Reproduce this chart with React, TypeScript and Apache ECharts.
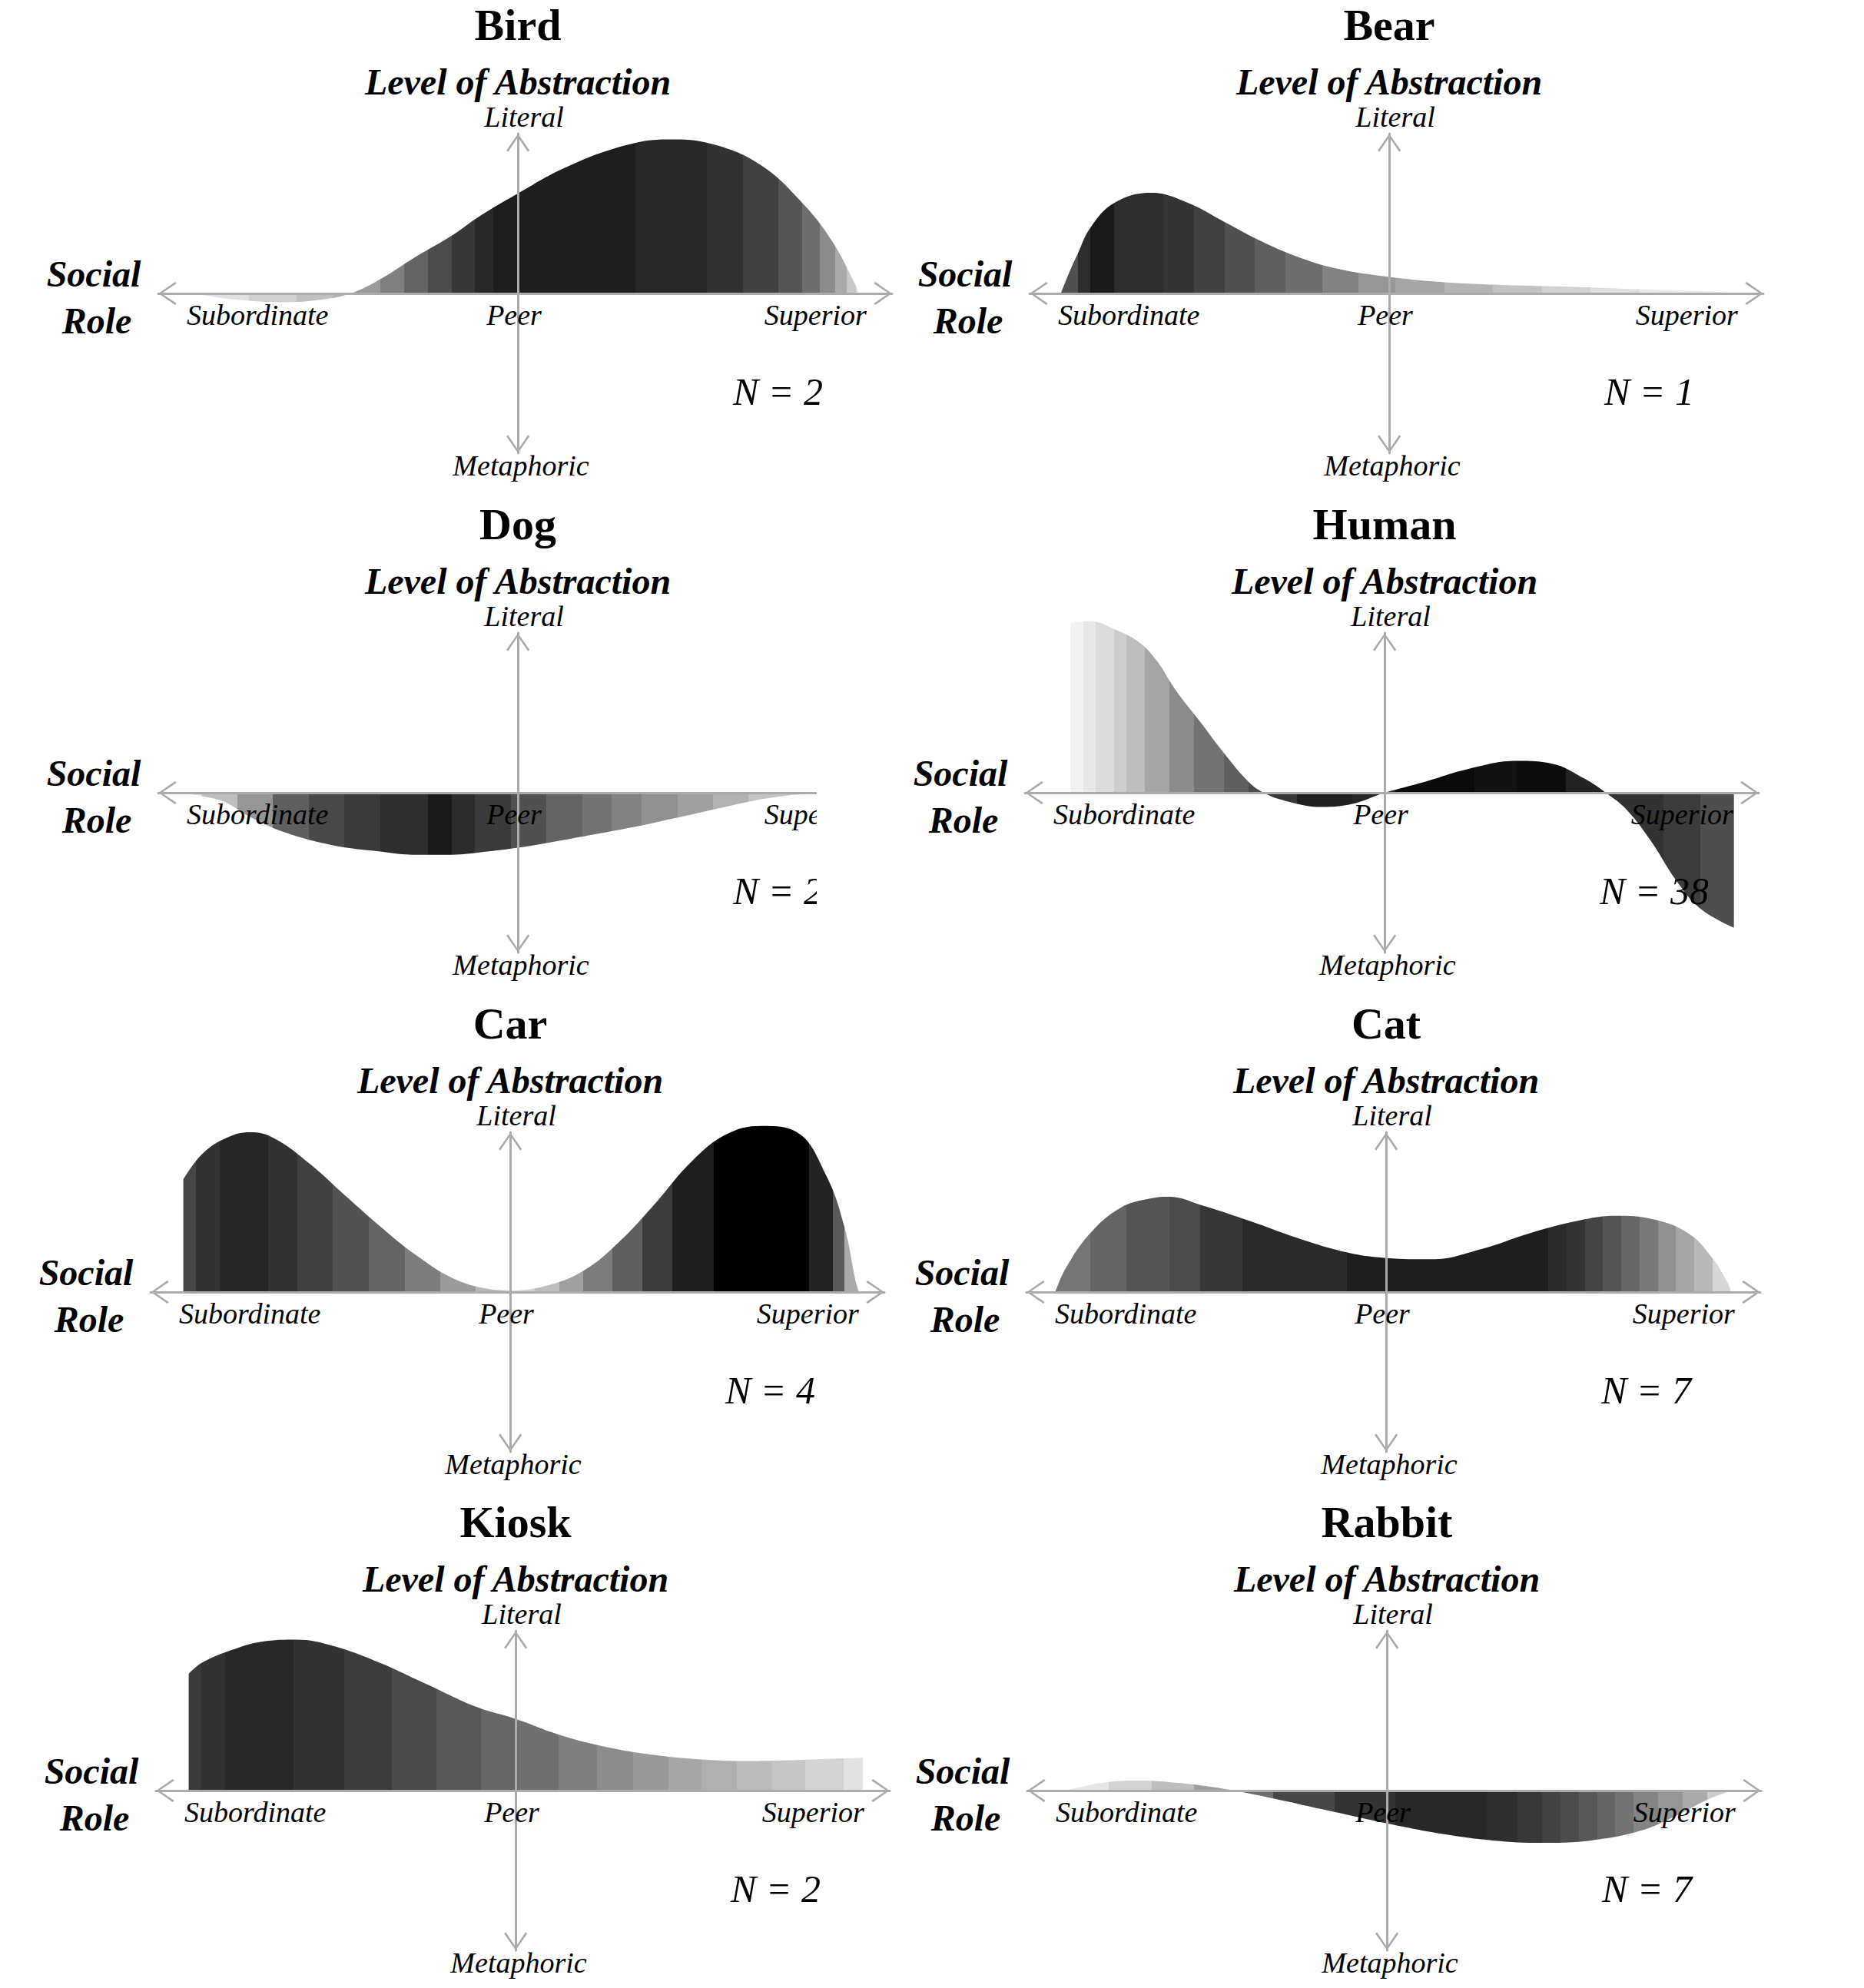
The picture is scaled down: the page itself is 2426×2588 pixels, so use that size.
import React, { useEffect, useRef } from "react";
import * as echarts from "echarts";

// ---------- data ----------
const panelNames = ["Bird", "Bear", "Dog", "Human", "Car", "Cat", "Kiosk", "Rabbit"];
const panelCounts = ["N = 2", "N = 1", "N = 2", "N = 38", "N = 4", "N = 7", "N = 2", "N = 7"];
const xTickLabels = ["Subordinate", "Peer", "Superior"];
const xTickValues = [-0.724, -0.011, 0.827];

const birdX = [-0.896, -0.8, -0.65, -0.55, -0.466, -0.38, -0.284, -0.185, -0.102, 0, 0.129, 0.294, 0.418, 0.542, 0.674, 0.79, 0.873, 0.939, 0.947];
const birdY = [0, -0.035, -0.055, -0.04, 0, 0.093, 0.229, 0.36, 0.49, 0.626, 0.785, 0.924, 0.964, 0.934, 0.805, 0.567, 0.328, 0.05, 0];
const birdShadeX = [-0.896, -0.747, -0.615, -0.516, -0.45, -0.383, -0.317, -0.251, -0.185, -0.119, -0.069, 0.327, 0.526, 0.625, 0.724, 0.79, 0.84, 0.881, 0.914, 0.939];
const birdShade = [225, 208, 192, 175, 155, 128, 100, 75, 55, 40, 30, 40, 50, 65, 85, 110, 140, 170, 200, 225];

const bearX = [-0.913, -0.89, -0.866, -0.832, -0.764, -0.662, -0.56, -0.458, -0.357, -0.255, -0.153, 0, 0.153, 0.357, 0.526, 0.696, 0.866, 0.99];
const bearY = [0, 0.13, 0.249, 0.408, 0.567, 0.63, 0.567, 0.447, 0.328, 0.229, 0.159, 0.103, 0.07, 0.05, 0.04, 0.026, 0.014, 0];
const bearShadeX = [-0.913, -0.866, -0.832, -0.764, -0.628, -0.543, -0.458, -0.374, -0.289, -0.187, -0.085, 0.017, 0.153, 0.289, 0.424, 0.56, 0.696];
const bearShade = [80, 45, 26, 45, 52, 65, 80, 95, 110, 130, 150, 165, 180, 195, 210, 222, 235];

const dogX = [-0.945, -0.879, -0.813, -0.747, -0.648, -0.516, -0.383, -0.284, -0.185, -0.086, 0, 0.145, 0.311, 0.476, 0.592, 0.707, 0.823, 0.95];
const dogY = [0, -0.02, -0.06, -0.149, -0.248, -0.328, -0.368, -0.388, -0.388, -0.368, -0.344, -0.288, -0.219, -0.139, -0.08, -0.03, -0.006, 0];
const dogShadeX = [-0.945, -0.879, -0.78, -0.681, -0.582, -0.483, -0.383, -0.251, -0.185, -0.119, -0.02, 0.079, 0.179, 0.261, 0.344, 0.443, 0.542, 0.641, 0.757];
const dogShade = [225, 190, 150, 95, 72, 58, 45, 26, 44, 58, 80, 100, 115, 130, 145, 160, 178, 195, 215];

const humanX = [-0.874, -0.82, -0.752, -0.684, -0.633, -0.582, -0.514, -0.447, -0.379, -0.336, -0.277, -0.175, -0.09, 0, 0.114, 0.233, 0.368, 0.47, 0.555, 0.615, 0.674, 0.742, 0.81, 0.878, 0.971];
const humanY = [1.06, 1.074, 1.024, 0.944, 0.825, 0.646, 0.447, 0.249, 0.07, 0, -0.05, -0.089, -0.07, 0, 0.07, 0.149, 0.199, 0.179, 0.089, 0, -0.109, -0.308, -0.547, -0.726, -0.845];
const humanShadeX = [-0.874, -0.837, -0.803, -0.752, -0.718, -0.667, -0.599, -0.531, -0.447, -0.379, -0.328, -0.243, -0.09, 0.029, 0.25, 0.368, 0.504, 0.606, 0.776, 0.878];
const humanShade = [242, 232, 220, 205, 190, 165, 140, 115, 95, 75, 55, 32, 38, 10, 18, 12, 35, 50, 60, 78];

const carX = [-0.909, -0.856, -0.79, -0.724, -0.658, -0.559, -0.46, -0.36, -0.261, -0.162, -0.063, 0, 0.1, 0.2, 0.3, 0.4, 0.499, 0.598, 0.698, 0.797, 0.879, 0.929, 0.962, 0.97];
const carY = [0.706, 0.865, 0.964, 1.0, 0.964, 0.805, 0.606, 0.408, 0.229, 0.089, 0.02, 0.01, 0.04, 0.129, 0.308, 0.547, 0.805, 0.984, 1.04, 1.0, 0.726, 0.408, 0.05, 0];
const carShadeX = [-0.909, -0.873, -0.807, -0.674, -0.592, -0.493, -0.393, -0.294, -0.195, -0.096, -0.013, 0.069, 0.136, 0.202, 0.284, 0.367, 0.45, 0.565, 0.83, 0.896, 0.929];
const carShade = [70, 50, 38, 50, 65, 82, 100, 125, 155, 185, 210, 190, 160, 125, 95, 60, 30, 0, 35, 90, 170];

const catX = [-0.92, -0.891, -0.823, -0.739, -0.654, -0.603, -0.518, -0.382, -0.246, -0.11, 0, 0.127, 0.263, 0.399, 0.535, 0.637, 0.739, 0.84, 0.908, 0.951, 0.959];
const catY = [0, 0.149, 0.368, 0.527, 0.586, 0.596, 0.547, 0.447, 0.338, 0.249, 0.213, 0.205, 0.268, 0.368, 0.447, 0.477, 0.457, 0.368, 0.209, 0.05, 0];
const catShadeX = [-0.92, -0.823, -0.722, -0.603, -0.518, -0.399, -0.11, 0.45, 0.501, 0.552, 0.603, 0.654, 0.705, 0.756, 0.806, 0.857, 0.908];
const catShade = [118, 100, 85, 75, 55, 42, 30, 42, 52, 68, 85, 102, 120, 145, 165, 185, 215];

const kioskX = [-0.909, -0.873, -0.793, -0.707, -0.608, -0.509, -0.377, -0.245, -0.112, 0, 0.119, 0.251, 0.383, 0.516, 0.648, 0.78, 0.879, 0.965];
const kioskY = [0.731, 0.799, 0.877, 0.932, 0.945, 0.906, 0.799, 0.663, 0.526, 0.448, 0.351, 0.273, 0.224, 0.195, 0.185, 0.191, 0.199, 0.205];
const kioskShadeX = [-0.909, -0.873, -0.807, -0.617, -0.476, -0.344, -0.22, -0.096, 0.003, 0.119, 0.226, 0.326, 0.425, 0.516, 0.615, 0.714, 0.805, 0.912];
const kioskShade = [58, 50, 40, 50, 60, 74, 88, 102, 112, 127, 140, 153, 166, 176, 188, 198, 212, 226];

const rabbitX = [-0.927, -0.876, -0.791, -0.689, -0.587, -0.486, -0.426, -0.316, -0.18, 0, 0.16, 0.295, 0.431, 0.567, 0.703, 0.805, 0.89, 0.958];
const rabbitY = [0, 0.01, 0.049, 0.062, 0.049, 0.023, 0, -0.049, -0.117, -0.205, -0.273, -0.312, -0.327, -0.312, -0.253, -0.156, -0.058, 0];
const rabbitShadeX = [-0.927, -0.774, -0.655, -0.537, -0.426, -0.316, -0.146, 0.024, 0.278, 0.363, 0.431, 0.482, 0.533, 0.584, 0.635, 0.686, 0.754, 0.822, 0.89];
const rabbitShade = [230, 210, 190, 160, 110, 70, 52, 40, 46, 56, 66, 76, 88, 100, 115, 132, 150, 170, 205];

const panelXs = [birdX, bearX, dogX, humanX, carX, catX, kioskX, rabbitX];
const panelYs = [birdY, bearY, dogY, humanY, carY, catY, kioskY, rabbitY];
const panelShadeXs = [birdShadeX, bearShadeX, dogShadeX, humanShadeX, carShadeX, catShadeX, kioskShadeX, rabbitShadeX];
const panelShades = [birdShade, bearShade, dogShade, humanShade, carShade, catShade, kioskShade, rabbitShade];

// ---------- layout ----------
const W = 2426;
const H = 2588;
const centerX = [674, 1808, 674, 1802, 664, 1804, 671, 1805];
const rowY = [0, 0, 650, 650, 1300, 1300, 1949, 1949];
const LEFT_SPAN = 468;
const GRID_W = 955;
const GRID_TOP = 174;
const GRID_H = 416;
const AXIS_GRAY = "#ababab";
const FONT = "Liberation Serif";
const CHEVRON = "path://M15,0 L30,21.5 L28,23.5 L15,4.2 L2,23.5 L0,21.5 Z";

function stripeStops(xs: number[], sx: number[], sg: number[]) {
  const x0 = xs[0];
  const x1 = xs[xs.length - 1];
  const clamp = (v: number) => Math.max(0, Math.min(1, v));
  const stops: { offset: number; color: string }[] = [];
  for (let i = 0; i < sx.length; i++) {
    const a = clamp((sx[i] - x0) / (x1 - x0));
    const b = i + 1 < sx.length ? clamp((sx[i + 1] - x0) / (x1 - x0)) : 1;
    const c = `rgb(${sg[i]},${sg[i]},${sg[i]})`;
    stops.push({ offset: a, color: c }, { offset: b, color: c });
  }
  return stops;
}

function text(x: number, y: number, str: string, size: number, weight: string, style: string, align = "center") {
  return {
    type: "text",
    x,
    y,
    z: 50,
    silent: true,
    style: {
      text: str,
      fill: "#000",
      fontSize: size,
      fontFamily: FONT,
      fontWeight: weight,
      fontStyle: style,
      align,
      verticalAlign: "middle",
      textAlign: align,
      textVerticalAlign: "middle",
    },
  };
}

function buildOption() {
  const grid: any[] = [];
  const xAxis: any[] = [];
  const yAxis: any[] = [];
  const series: any[] = [];
  const elements: any[] = [];

  const arrowLine = (onZero: boolean) => ({
    show: true,
    onZero,
    lineStyle: { color: AXIS_GRAY, width: 3 },
    symbol: [CHEVRON, CHEVRON],
    symbolSize: [30, 24],
    symbolOffset: [12, -12],
  });

  panelNames.forEach((name, i) => {
    const c = centerX[i];
    const r = rowY[i];
    grid.push({ left: c - LEFT_SPAN, top: r + GRID_TOP, width: GRID_W, height: GRID_H, containLabel: false });
    // horizontal axis: the y range is symmetric, so the middle of the grid is y = 0
    xAxis.push({
      type: "value",
      gridIndex: i,
      position: "bottom",
      offset: -GRID_H / 2,
      min: -1,
      max: 1.04,
      z: 3,
      axisLine: arrowLine(false),
      axisTick: { show: false },
      splitLine: { show: false },
      axisLabel: {
        show: true,
        customValues: xTickValues,
        margin: 9,
        color: "#000",
        fontFamily: FONT,
        fontStyle: "italic",
        fontSize: 38,
        formatter: (v: number) => {
          let best = 0;
          xTickValues.forEach((t, k) => {
            if (Math.abs(t - v) < Math.abs(xTickValues[best] - v)) best = k;
          });
          return xTickLabels[best];
        },
      },
    });
    yAxis.push({
      type: "value",
      gridIndex: i,
      min: -1,
      max: 1,
      z: 3,
      axisLine: arrowLine(true),
      axisTick: { show: false },
      splitLine: { show: false },
      axisLabel: { show: false },
    });
    const xs = panelXs[i];
    const ys = panelYs[i];
    series.push({
      type: "line",
      name,
      xAxisIndex: i,
      yAxisIndex: i,
      data: xs.map((x, j) => [x, ys[j]]),
      smooth: 0.4,
      symbol: "none",
      showSymbol: false,
      clip: false,
      silent: true,
      z: 2,
      lineStyle: { width: 0, opacity: 0 },
      areaStyle: {
        opacity: 1,
        origin: 0,
        color: new echarts.graphic.LinearGradient(0, 0, 1, 0, stripeStops(xs, panelShadeXs[i], panelShades[i])),
      },
    });

    elements.push(text(c, r + 32, name, 58, "bold", "normal"));
    elements.push(text(c, r + 106, "Level of Abstraction", 48, "bold", "italic"));
    elements.push(text(c + 8, r + 152, "Literal", 38, "normal", "italic"));
    elements.push(text(c + 4, r + 606, "Metaphoric", 38, "normal", "italic"));
    elements.push(text(c - 552, r + 356, "Social", 48, "bold", "italic"));
    elements.push(text(c - 548, r + 417, "Role", 48, "bold", "italic"));
    elements.push(text(c + 280, r + 510, panelCounts[i], 50, "normal", "italic", "left"));
  });

  // the Dog panel is cut off on its right side in the original figure
  elements.push({
    type: "rect",
    z: 100,
    silent: true,
    shape: { x: 1063, y: 650 + 150, width: 112, height: 500 },
    style: { fill: "#ffffff" },
  });

  return {
    animation: false,
    backgroundColor: "#ffffff",
    grid,
    xAxis,
    yAxis,
    series,
    graphic: { elements },
  };
}

export default function App() {
  const ref = useRef<HTMLDivElement>(null);
  useEffect(() => {
    document.body.style.margin = "0";
    if (!ref.current) return;
    const chart = echarts.init(ref.current, undefined, { renderer: "svg" });
    chart.setOption(buildOption() as any);
    return () => chart.dispose();
  }, []);
  return <div ref={ref} style={{ width: W, height: H }} />;
}
